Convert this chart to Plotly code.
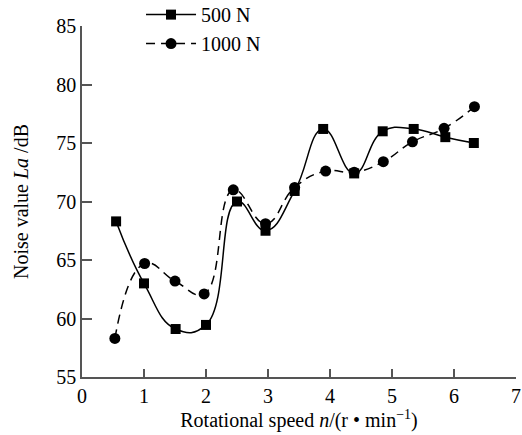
import plotly.graph_objects as go

speed_500 = [0.55, 1.00, 1.51, 2.00, 2.50, 2.96, 3.43, 3.89, 4.39, 4.85, 5.35, 5.86, 6.32]
noise_500 = [68.3, 63.0, 59.1, 59.45, 70.0, 67.5, 70.9, 76.2, 72.4, 76.0, 76.2, 75.5, 75.0]

speed_1000 = [0.53, 1.01, 1.50, 1.97, 2.44, 2.96, 3.43, 3.93, 4.39, 4.86, 5.33, 5.84, 6.33]
noise_1000 = [58.3, 64.7, 63.2, 62.1, 71.0, 68.1, 71.2, 72.6, 72.5, 73.4, 75.1, 76.25, 78.1]

x_ticks = [0, 1, 2, 3, 4, 5, 6, 7]
y_ticks = [55, 60, 65, 70, 75, 80, 85]

FONT = "Liberation Serif"
FS = 20

fig = go.Figure()
fig.add_trace(go.Scatter(
    x=speed_500, y=noise_500, name="500 N", mode="lines+markers",
    line=dict(color="black", width=1.5, shape="spline", smoothing=1.3),
    marker=dict(symbol="square", size=10, color="black"),
))
fig.add_trace(go.Scatter(
    x=speed_1000, y=noise_1000, name="1000 N", mode="lines+markers",
    line=dict(color="black", width=1.5, dash="9px,6px", shape="spline", smoothing=1.3),
    marker=dict(symbol="circle", size=11, color="black"),
))

axis_common = dict(
    showgrid=False, zeroline=False, showline=True, linecolor="#555555", linewidth=1.5,
    ticks="inside", tickcolor="#555555", tickwidth=1.5,
    tickfont=dict(family=FONT, size=FS, color="black"),
    mirror=False, automargin=False,
)

fig.update_layout(
    width=522, height=435,
    margin=dict(l=82, r=6, t=26, b=58, autoexpand=False),
    paper_bgcolor="white", plot_bgcolor="white",
    font=dict(family=FONT, size=FS, color="black"),
    showlegend=True,
    legend=dict(
        x=0.136, y=1.088, xanchor="left", yanchor="top",
        bgcolor="rgba(0,0,0,0)", itemwidth=50, tracegroupgap=0,
        font=dict(family=FONT, size=FS, color="black"),
    ),
    xaxis=dict(
        range=[0, 7], tickvals=x_ticks, ticklen=8,
        title=dict(text="Rotational speed <i>n</i>/(r • min<sup>−1</sup>)",
                   font=dict(family=FONT, size=FS), standoff=2),
        **axis_common,
    ),
    yaxis=dict(
        range=[55, 85], tickvals=y_ticks, ticklen=10,
        title=dict(text="Noise value <i>La</i> /dB",
                   font=dict(family=FONT, size=FS), standoff=22),
        **axis_common,
    ),
)

fig.write_html(
    "out.html",
    config={"displayModeBar": False},
    post_script="document.body.style.margin='0px';document.body.style.overflow='hidden';",
)
